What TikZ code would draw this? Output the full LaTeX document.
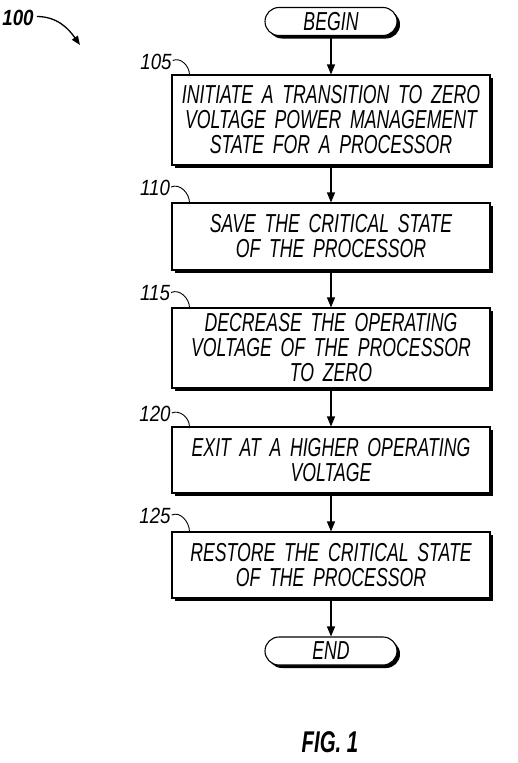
\documentclass[tikz,border=0pt]{standalone}
\usepackage{fontspec}
\setmainfont{Liberation Sans}
\newfontfamily\boxfont{Liberation Sans}[FakeStretch=0.68]
\newfontfamily\numfont{Liberation Sans}[FakeStretch=0.85]
\newfontfamily\figfont{Liberation Sans}[FakeStretch=0.68]
\usetikzlibrary{arrows.meta,shadows,calc}
\begin{document}
\begin{tikzpicture}[x=1pt,y=1pt,
  shadowed/.style={drop shadow={shadow xshift=3pt, shadow yshift=-3pt, fill=black, opacity=1}},
  stepbox/.style={draw, line width=1.1pt, fill=white, minimum width=318pt, text width=310pt,
    align=center, inner sep=0pt, font=\boxfont\itshape\fontsize{26}{25}\selectfont, shadowed},
  termbox/.style={draw, line width=1.1pt, fill=white, minimum width=132pt, minimum height=28pt,
    rounded corners=14pt, inner sep=0pt, font=\boxfont\itshape\fontsize{26}{25}\selectfont, shadowed},
  lab/.style={font=\numfont\itshape\fontsize{22}{22}\selectfont, inner sep=0pt},
  flow/.style={line width=1.1pt, -{Triangle[length=10pt,width=8pt]}},
  tick/.style={line width=0.9pt}]
\useasboundingbox (0,0) rectangle (517,-763);

\node[termbox] (begin) at (331,-21.5) {BEGIN};
\node[stepbox, minimum height=90pt] (s105) at (331,-120) {INITIATE A TRANSITION TO ZERO\\VOLTAGE POWER MANAGEMENT\\STATE FOR A PROCESSOR};
\node[stepbox, minimum height=67pt] (s110) at (331,-236.5) {SAVE THE CRITICAL STATE\\OF THE PROCESSOR};
\node[stepbox, minimum height=80pt] (s115) at (331,-348) {DECREASE THE OPERATING\\VOLTAGE OF THE PROCESSOR\\TO ZERO};
\node[stepbox, minimum height=66pt] (s120) at (331,-460) {EXIT AT A HIGHER OPERATING\\VOLTAGE};
\node[stepbox, minimum height=66pt] (s125) at (331,-565) {RESTORE THE CRITICAL STATE\\OF THE PROCESSOR};
\node[termbox] (end) at (331,-651) {END};

\draw[flow] (begin) -- (s105);
\draw[flow] (s105) -- (s110);
\draw[flow] (s110) -- (s115);
\draw[flow] (s115) -- (s120);
\draw[flow] (s120) -- (s125);
\draw[flow] (s125) -- (end);

\node[lab] (l105) at (156,-61.5) {105};
\node[lab] (l110) at (155,-188) {110};
\node[lab] (l115) at (155,-293.5) {115};
\node[lab] (l120) at (155,-414) {120};
\node[lab] (l125) at (155,-516) {125};
\foreach \n in {105,110,115,120,125}{
  \coordinate (c\n) at ($(s\n.north west)+(18,0)$);
  \draw[tick] ($(l\n.east)+(1,1)$) to[out=25, in=90] (c\n);
}

\node[font=\numfont\bfseries\itshape\fontsize{22}{22}\selectfont, inner sep=0pt] (fig100) at (18,-17.5) {100};
\coordinate (a100) at (80,-45);
\draw[line width=1.3pt, -{Triangle[length=9pt,width=7pt]}] ($(fig100.east)+(3,1)$) to[out=0, in=125] (a100);

\node[font=\figfont\bfseries\itshape\fontsize{30}{30}\selectfont, inner sep=0pt] (fig) at (330,-742.5) {FIG. 1};
\end{tikzpicture}
\end{document}
